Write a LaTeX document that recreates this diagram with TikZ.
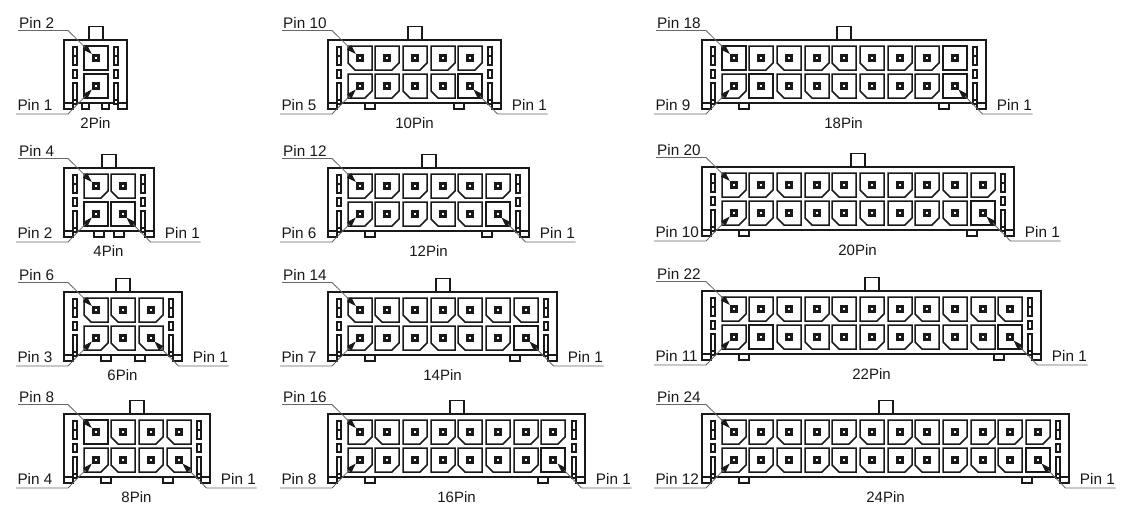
\documentclass[tikz,border=0pt]{standalone}
\usepackage{fontspec}
\setmainfont{Liberation Sans}
\usetikzlibrary{arrows.meta}
\tikzset{
  x=1pt,y=-1pt,
  body/.style={draw=ink,line width=1.7pt,fill=white},
  cellbox/.style={draw=ink,line width=1.5pt,fill=white,line join=miter},
  slotbox/.style={draw=ink,line width=1.2pt,fill=white},
  footbox/.style={draw=ink,line width=1.2pt,fill=white},
  leader/.style={draw=wire,line width=0.8pt,-{Stealth[ink,inset=0pt,length=9.5pt,width=6pt]}},
  pinlabel/.style={font=\fontsize{15.3}{18}\selectfont,text=ink,inner sep=0pt,anchor=base west},
  pinlabelr/.style={font=\fontsize{15.3}{18}\selectfont,text=ink,inner sep=0pt,anchor=base east},
  caption/.style={font=\fontsize{15}{18}\selectfont,text=ink,inner sep=0pt,anchor=base},
}
\definecolor{ink}{gray}{0.1}
\definecolor{wire}{gray}{0.4}
% cell outlines: N square, L bottom-left chamfer, R bottom-right chamfer
\newcommand{\cellN}[2]{\draw[cellbox] (#1,#2) rectangle (#1+24,#2+24);}
\newcommand{\cellL}[2]{\draw[cellbox] (#1,#2) -- (#1+24,#2) -- (#1+24,#2+24) -- (#1+7,#2+24) -- (#1,#2+17) -- cycle;}
\newcommand{\cellR}[2]{\draw[cellbox] (#1,#2) -- (#1+24,#2) -- (#1+24,#2+17) -- (#1+17,#2+24) -- (#1,#2+24) -- cycle;}
\newcommand{\onecell}[3]{%
  \pgfmathsetmacro{\cx}{round(#1)}%
  \pgfmathsetmacro{\cy}{round(#2)}%
  \csname cell#3\endcsname{\cx}{\cy}%
  \fill[ink] (\cx+8,\cy+8) rectangle (\cx+16,\cy+16);
  \fill[white] (\cx+11,\cy+11) rectangle (\cx+13,\cy+13);
}
\newcommand{\sideslots}[2]{%
  \draw[slotbox] (#1,#2+7) rectangle (#1+4,#2+25);
  \draw[slotbox] (#1,#2+16) -- (#1+4,#2+16);
  \draw[slotbox] (#1,#2+30) rectangle (#1+4,#2+38);
  \draw[slotbox] (#1,#2+43) rectangle (#1+4,#2+64);
  \draw[slotbox] (#1,#2+60) -- (#1+4,#2+60);
}
% #1 id, #2 left, #3 top, #4 columns, #5 foot offset, #6 foot width,
% #7 top-row cells, #8 bottom-row cells, #9 top label
\newcommand{\connector}[9]{%
  \def\cid{#1}\def\bn{#4}%
  \pgfmathsetmacro{\bl}{round(#2)}%
  \pgfmathsetmacro{\bt}{round(#3)}%
  \pgfmathsetmacro{\br}{round(#2+35+#4*27.7)}%
  \pgfmathsetmacro{\bm}{round((\bl+\br)/2)}%
  \def\ff{#5}\def\fw{#6}%
  \def\rowa{#7}\def\rowb{#8}\def\toplab{#9}%
  \connectorrest
}
\newcommand{\connectorrest}[3]{%
  % #1 bottom-left label, #2 right label, #3 caption
  \draw[body] (\bm-7,\bt) rectangle (\bm+7,\bt-13.5);
  \draw[footbox] (\bl+\ff,\bt+63) rectangle (\bl+\ff+\fw,\bt+69);
  \draw[footbox] (\br-\ff-\fw,\bt+63) rectangle (\br-\ff,\bt+69);
  \draw[footbox] (\bl,\bt+63) rectangle (\bl+9,\bt+69);
  \draw[footbox] (\br-9,\bt+63) rectangle (\br,\bt+69);
  \draw[body] (\bl,\bt) rectangle (\br,\bt+63);
  \sideslots{\bl+9}{\bt}
  \sideslots{\br-13}{\bt}
  \foreach \c [count=\i from 0] in \rowa {\onecell{\bl+19.5+\i*27.7}{\bt+6}{\c}}
  \foreach \c [count=\i from 0] in \rowb {\onecell{\bl+19.5+\i*27.7}{\bt+34}{\c}}
  % top-left label
  \node[pinlabel] (\cid-tl) at (\bl-45,\bt-11.5) {\toplab};
  \coordinate (\cid-tla) at (\bl-46,\bt-9.5);
  \coordinate (\cid-tlb) at (\bl+4,\bt-9.5);
  \coordinate (\cid-tlp) at (\bl+27.8,\bt+14);
  \draw[leader] (\cid-tla) -- (\cid-tlb) -- (\cid-tlp);
  % bottom-left label
  \node[pinlabel] (\cid-bl) at (\bl-46.7,\bt+70.5) {#1};
  \coordinate (\cid-bla) at (\bl-48,\bt+74);
  \coordinate (\cid-blb) at (\bl+4,\bt+74);
  \coordinate (\cid-blp) at (\bl+27.8,\bt+49.5);
  \draw[leader] (\cid-bla) -- (\cid-blb) -- (\cid-blp);
  % bottom-right label
  \ifnum\bn>1
    \node[pinlabelr] (\cid-br) at (\br+46,\bt+70.5) {#2};
    \coordinate (\cid-bra) at (\br+46.5,\bt+74);
    \coordinate (\cid-brb) at (\br-3.5,\bt+74);
    \coordinate (\cid-brp) at (\br-27.5,\bt+49.5);
    \draw[leader] (\cid-bra) -- (\cid-brb) -- (\cid-brp);
  \fi
  \node[caption] (\cid-cap) at (\bm-0.5,\bt+88) {#3};
}
\begin{document}
\begin{tikzpicture}
\fill[white] (0,0) rectangle (1134,522);
\useasboundingbox (0,0) rectangle (1134,522);
\connector{a}{64}{39.5}{1}{18}{7}{N}{N}{Pin 2}{Pin 1}{}{2Pin}
\connector{b}{64}{168}{2}{30}{10}{R,L}{N,N}{Pin 4}{Pin 2}{Pin 1}{4Pin}
\connector{c}{63.7}{292.3}{3}{37}{10}{L,L,R}{R,L,L}{Pin 6}{Pin 3}{Pin 1}{6Pin}
\connector{d}{64}{413.5}{4}{37}{10}{N,L,R,L}{R,L,R,L}{Pin 8}{Pin 4}{Pin 1}{8Pin}
\connector{e}{328}{39.5}{5}{37}{10}{L,R,R,R,R}{R,R,L,L,N}{Pin 10}{Pin 5}{Pin 1}{10Pin}
\connector{f}{328}{167.7}{6}{37}{10}{R,R,R,R,L,R}{R,R,R,L,L,N}{Pin 12}{Pin 6}{Pin 1}{12Pin}
\connector{g}{328}{292}{7}{37}{10}{L,L,L,R,L,L,L}{R,R,R,L,L,R,N}{Pin 14}{Pin 7}{Pin 1}{14Pin}
\connector{h}{328}{413.7}{8}{37}{10}{R,L,R,R,L,R,R,R}{R,R,R,R,L,L,R,N}{Pin 16}{Pin 8}{Pin 1}{16Pin}
\connector{i}{701.7}{40}{9}{37}{10}{N,R,L,R,L,L,R,R,N}{R,N,L,L,L,L,R,R,N}{Pin 18}{Pin 9}{Pin 1}{18Pin}
\connector{j}{701.7}{166.5}{10}{37}{10}{R,R,L,R,L,L,R,R,L,R}{R,R,L,L,L,L,R,R,L,N}{Pin 20}{Pin 10}{Pin 1}{20Pin}
\connector{k}{701.7}{291.3}{11}{37}{10}{R,R,L,R,L,R,R,L,L,L,L}{R,N,L,L,L,R,R,L,L,L,N}{Pin 22}{Pin 11}{Pin 1}{22Pin}
\connector{m}{701.7}{414}{12}{37}{10}{R,R,L,R,R,L,R,L,R,R,R,R}{R,R,L,R,L,L,R,L,R,L,L,N}{Pin 24}{Pin 12}{Pin 1}{24Pin}
\end{tikzpicture}
\end{document}
